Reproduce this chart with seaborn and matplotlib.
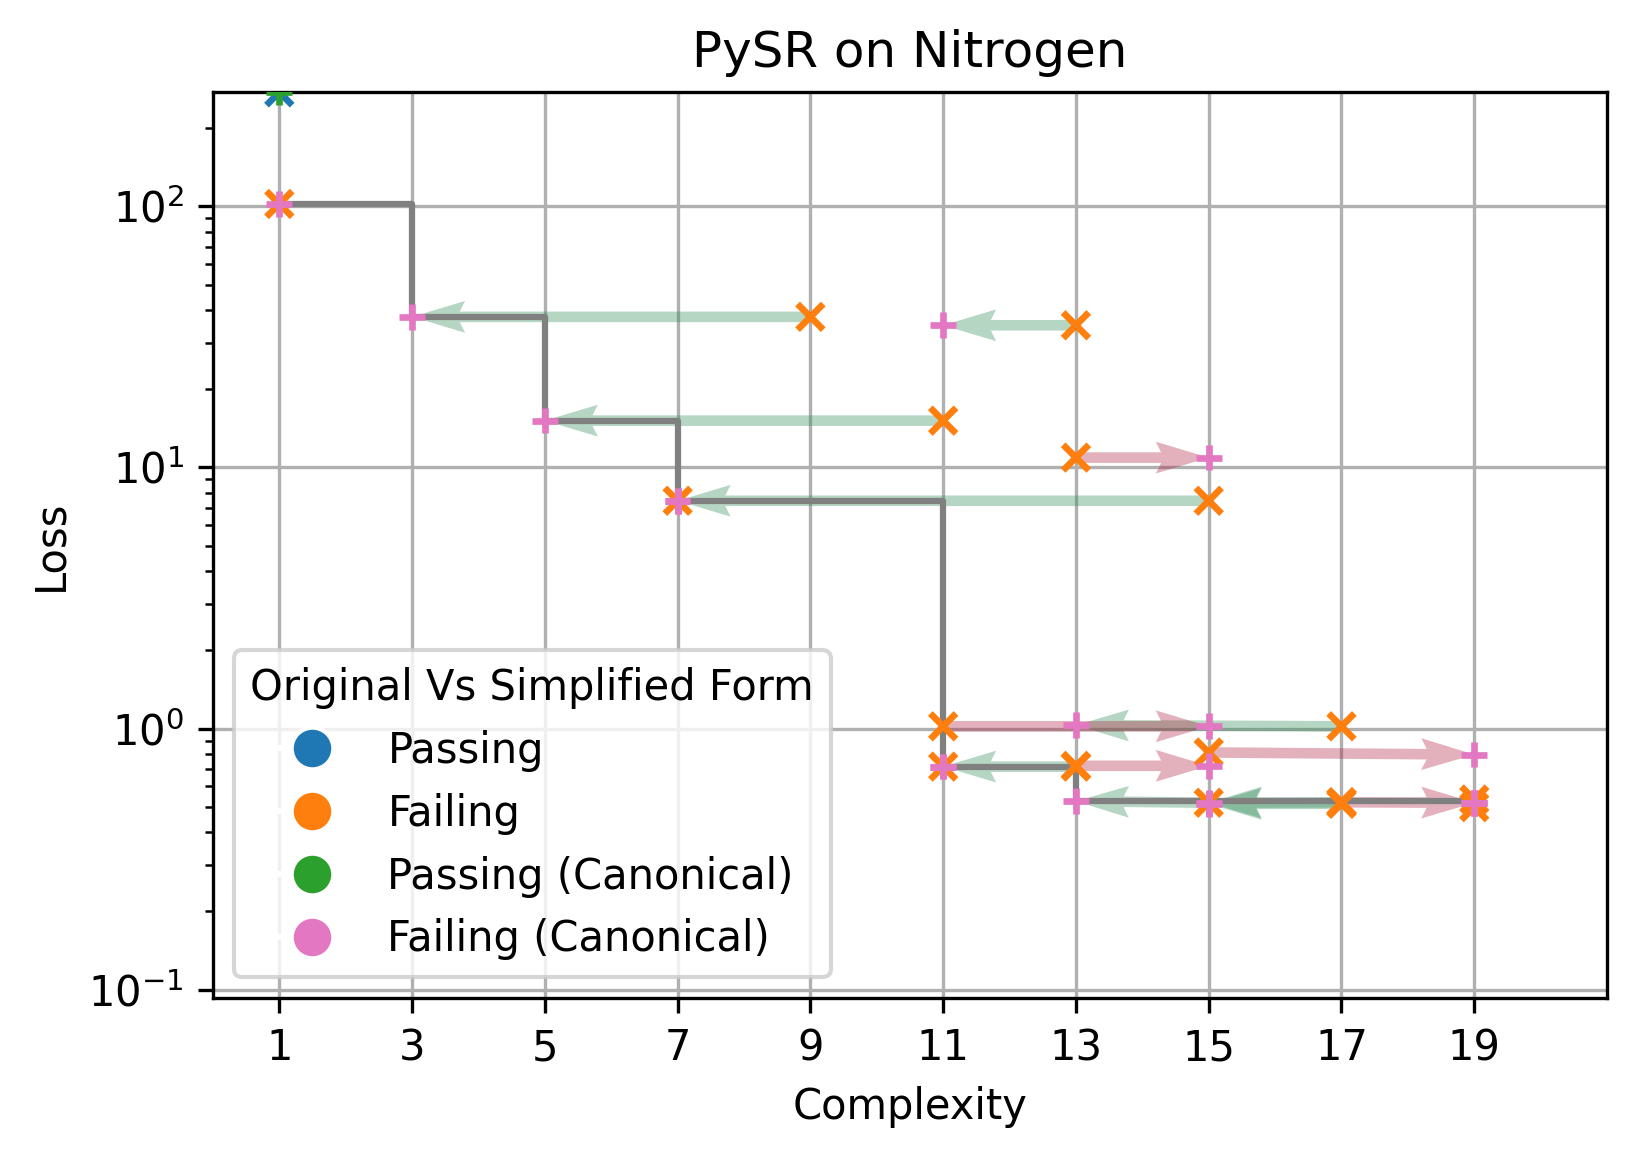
import matplotlib
matplotlib.use("Agg")
import matplotlib.pyplot as plt
from matplotlib.lines import Line2D
import seaborn as sns
import pandas as pd
import numpy as np

# ---- data ----
orig_complexity = [1, 1, 9, 13, 11, 13, 15, 7, 11, 17, 15, 11, 13, 13, 15, 17, 17, 17, 19, 19]
orig_loss = [273, 102, 37.7, 35.0, 15.1, 10.9, 7.45, 7.45, 1.02, 1.02, 0.81, 0.715, 0.715, 0.72,
             0.52, 0.522, 0.515, 0.522, 0.535, 0.50]
orig_status = ["Passing"] + ["Failing"] * 19

canon_complexity = [1, 1, 3, 11, 5, 15, 7, 7, 15, 13, 19, 11, 11, 15, 13, 15, 15, 19, 19, 19]
canon_loss = [273, 102, 37.7, 35.0, 15.1, 10.9, 7.45, 7.45, 1.02, 1.03, 0.795, 0.715, 0.715, 0.72,
              0.527, 0.52, 0.515, 0.52, 0.52, 0.52]
canon_status = ["Passing (Canonical)"] + ["Failing (Canonical)"] * 19

front_complexity = [1, 3, 5, 7, 11, 13, 19]
front_loss = [102, 37.7, 15.1, 7.45, 0.715, 0.527, 0.527]

x_ticks = [1, 3, 5, 7, 9, 11, 13, 15, 17, 19]
legend_labels = ["Passing", "Failing", "Passing (Canonical)", "Failing (Canonical)"]
legend_colors = ["tab:blue", "tab:orange", "tab:green", "tab:pink"]

df_orig = pd.DataFrame({"complexity": orig_complexity, "loss": orig_loss, "status": orig_status})
df_canon = pd.DataFrame({"complexity": canon_complexity, "loss": canon_loss, "status": canon_status})

fig = plt.figure(figsize=(5.46, 3.86), dpi=300)
ax = fig.add_axes([0.1300, 0.1382, 0.8511, 0.7821])
ax.set_yscale("log")

# arrows from original to canonical form
green = (46 / 255, 139 / 255, 87 / 255, 0.35)
pink = (175 / 255, 32 / 255, 61 / 255, 0.35)
x0 = np.array(orig_complexity, float)
y0 = np.array(orig_loss, float)
x1 = np.array(canon_complexity, float)
y1 = np.array(canon_loss, float)
for mask, col in [(x1 < x0, green), (x1 > x0, pink)]:
    ax.quiver(x0[mask], y0[mask], (x1 - x0)[mask], (y1 - y0)[mask],
              angles="xy", scale_units="xy", scale=1, color=col,
              width=0.0076, zorder=2)

# pareto front
ax.step(front_complexity, front_loss, where="post", color="grey", lw=1.5, zorder=3)

sns.scatterplot(data=df_orig, x="complexity", y="loss", hue="status",
                palette={"Passing": "tab:blue", "Failing": "tab:orange"},
                marker="x", s=38, linewidth=1.6, legend=False, zorder=4, ax=ax)
sns.scatterplot(data=df_canon, x="complexity", y="loss", hue="status",
                palette={"Passing (Canonical)": "tab:green", "Failing (Canonical)": "tab:pink"},
                marker="+", s=38, linewidth=1.6, legend=False, zorder=5, ax=ax)

ax.set_xlim(0, 21)
ax.set_ylim(0.093, 273)
ax.set_xticks(x_ticks)
ax.set_xticklabels([str(t) for t in x_ticks])
ax.grid(True, which="major")
ax.set_xlabel("Complexity")
ax.set_ylabel("Loss")
ax.set_title("PySR on Nitrogen", fontsize=12)

handles = [Line2D([0], [0], marker="o", color="w", markerfacecolor=c, markersize=10, label=l)
           for l, c in zip(legend_labels, legend_colors)]
ax.legend(handles=handles, title="Original Vs Simplified Form", loc="lower left")

fig.savefig("out.png", dpi=300)
